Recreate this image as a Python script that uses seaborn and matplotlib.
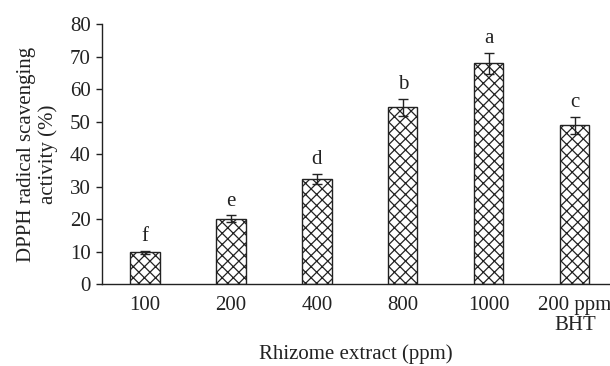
import numpy as np
import pandas as pd
import matplotlib
matplotlib.use("Agg")
import matplotlib.pyplot as plt
import seaborn as sns

# values
doses = ["100", "200", "400", "800", "1000", "200 ppm\nBHT"]
activity = [9.8, 20.2, 32.4, 54.5, 68.0, 48.9]
errors = [0.4, 1.0, 1.6, 2.6, 3.3, 2.5]
letters = ["f", "e", "d", "b", "a", "c"]

df = pd.DataFrame({"dose": doses, "activity": activity})

sns.set_style("white")
plt.rcParams["font.family"] = ["Liberation Serif", "DejaVu Serif"]
plt.rcParams["hatch.linewidth"] = 0.9
plt.rcParams["hatch.color"] = "#222222"

FS = 15
fig = plt.figure(figsize=(6.1, 3.66), dpi=100)
ax = fig.add_axes([102 / 610, 1 - 284.3 / 366, 1 - 102 / 610, (284.3 - 24.3) / 366])

sns.barplot(data=df, x="dose", y="activity", order=doses, color="white",
            edgecolor="#222222", linewidth=1.0, width=0.34, errorbar=None,
            hatch="xxx", ax=ax)

ax.errorbar(np.arange(len(doses)), activity, yerr=errors, fmt="none",
            ecolor="#222222", elinewidth=1.0, capsize=3.3, capthick=1.0)

for i, (v, e, lab) in enumerate(zip(activity, errors, letters)):
    ax.text(i, v + e + 1.5, lab, ha="center", va="bottom", fontsize=FS,
            color="#222222")

ax.set_ylim(0, 80)
ax.set_xlim(-0.5, 5.41)
ax.set_yticks(range(0, 81, 10))
ax.set_xlabel("Rhizome extract (ppm)", fontsize=FS, color="#222222", labelpad=7)
ax.set_ylabel("DPPH radical scavenging\nactivity (%)", fontsize=FS,
              color="#222222", labelpad=9, linespacing=1.15)

sns.despine(ax=ax)
for s in ["left", "bottom"]:
    ax.spines[s].set_color("#222222")
    ax.spines[s].set_linewidth(1.0)
ax.tick_params(axis="y", left=True, length=4, width=1.0, pad=4,
               labelsize=FS, colors="#222222")
ax.tick_params(axis="x", bottom=False, pad=5, labelsize=FS, colors="#222222")
for t in ax.get_xticklabels():
    t.set_linespacing(1.05)

fig.savefig("out.png", dpi=100)
